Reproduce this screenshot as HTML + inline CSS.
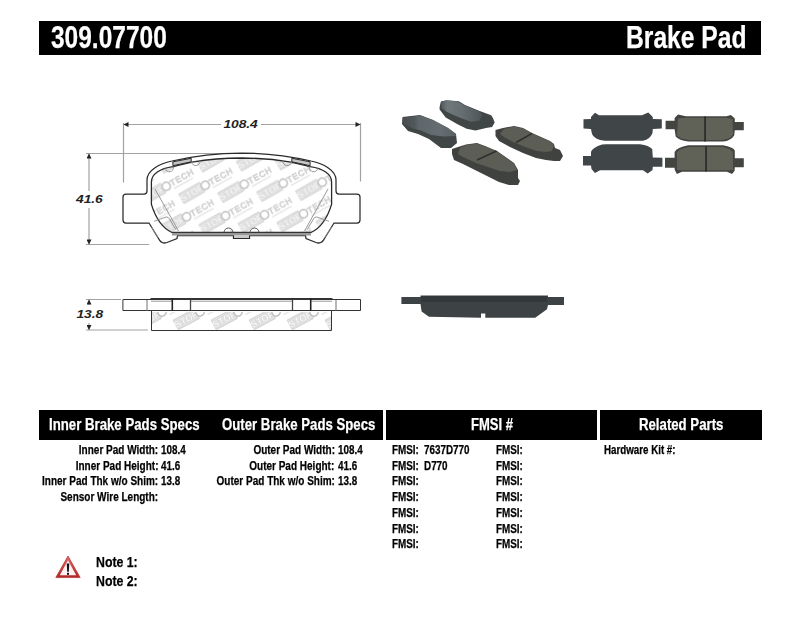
<!DOCTYPE html>
<html><head><meta charset="utf-8">
<style>
html,body{margin:0;padding:0;background:#fff;width:800px;height:619px;overflow:hidden;position:relative}
.t{position:absolute;font-family:"Liberation Sans",sans-serif;font-weight:700;white-space:pre;line-height:1;transform-origin:0 0;color:#000;-webkit-text-stroke:0.25px #000}
.w{color:#fff;-webkit-text-stroke:0.25px #fff}
.r{transform-origin:100% 0;text-align:right}
.bar{position:absolute;background:#000}
svg{position:absolute;left:0;top:0}
</style></head><body>
<svg width="800" height="619" viewBox="0 0 800 619">
<defs>

<pattern id="wm" patternUnits="userSpaceOnUse" width="39" height="62" x="205.3" y="185.3" patternTransform="rotate(-1.5 205.3 185.3)">
 <g transform="translate(0,0) rotate(-28)"> <rect x="-27.5" y="-5.5" width="24" height="11" fill="#e0e0e0" stroke="#d0d0d0" stroke-width="0.8"/> <text x="-15.5" y="3.4" font-family="Liberation Sans" font-weight="700" font-size="9.5" fill="#fff" stroke="#d0d0d0" stroke-width="0.3" text-anchor="middle">STOP</text> <circle cx="0" cy="0" r="4.1" fill="#fff" stroke="#c2c2c2" stroke-width="1.6"/> <text x="5" y="2.8" font-family="Liberation Sans" font-weight="400" font-size="8.5" letter-spacing="0.8" fill="none" stroke="#cfcfcf" stroke-width="0.75">TECH</text> <rect x="5.5" y="5" width="22" height="1.6" fill="#e8e8e8"/></g>
 <g transform="translate(39,0) rotate(-28)"> <rect x="-27.5" y="-5.5" width="24" height="11" fill="#e0e0e0" stroke="#d0d0d0" stroke-width="0.8"/> <text x="-15.5" y="3.4" font-family="Liberation Sans" font-weight="700" font-size="9.5" fill="#fff" stroke="#d0d0d0" stroke-width="0.3" text-anchor="middle">STOP</text> <circle cx="0" cy="0" r="4.1" fill="#fff" stroke="#c2c2c2" stroke-width="1.6"/> <text x="5" y="2.8" font-family="Liberation Sans" font-weight="400" font-size="8.5" letter-spacing="0.8" fill="none" stroke="#cfcfcf" stroke-width="0.75">TECH</text> <rect x="5.5" y="5" width="22" height="1.6" fill="#e8e8e8"/></g>
 <g transform="translate(19.5,31) rotate(-28)"> <rect x="-27.5" y="-5.5" width="24" height="11" fill="#e0e0e0" stroke="#d0d0d0" stroke-width="0.8"/> <text x="-15.5" y="3.4" font-family="Liberation Sans" font-weight="700" font-size="9.5" fill="#fff" stroke="#d0d0d0" stroke-width="0.3" text-anchor="middle">STOP</text> <circle cx="0" cy="0" r="4.1" fill="#fff" stroke="#c2c2c2" stroke-width="1.6"/> <text x="5" y="2.8" font-family="Liberation Sans" font-weight="400" font-size="8.5" letter-spacing="0.8" fill="none" stroke="#cfcfcf" stroke-width="0.75">TECH</text> <rect x="5.5" y="5" width="22" height="1.6" fill="#e8e8e8"/></g>
 <g transform="translate(-19.5,31) rotate(-28)"> <rect x="-27.5" y="-5.5" width="24" height="11" fill="#e0e0e0" stroke="#d0d0d0" stroke-width="0.8"/> <text x="-15.5" y="3.4" font-family="Liberation Sans" font-weight="700" font-size="9.5" fill="#fff" stroke="#d0d0d0" stroke-width="0.3" text-anchor="middle">STOP</text> <circle cx="0" cy="0" r="4.1" fill="#fff" stroke="#c2c2c2" stroke-width="1.6"/> <text x="5" y="2.8" font-family="Liberation Sans" font-weight="400" font-size="8.5" letter-spacing="0.8" fill="none" stroke="#cfcfcf" stroke-width="0.75">TECH</text> <rect x="5.5" y="5" width="22" height="1.6" fill="#e8e8e8"/></g>
 <g transform="translate(0,62) rotate(-28)"> <rect x="-27.5" y="-5.5" width="24" height="11" fill="#e0e0e0" stroke="#d0d0d0" stroke-width="0.8"/> <text x="-15.5" y="3.4" font-family="Liberation Sans" font-weight="700" font-size="9.5" fill="#fff" stroke="#d0d0d0" stroke-width="0.3" text-anchor="middle">STOP</text> <circle cx="0" cy="0" r="4.1" fill="#fff" stroke="#c2c2c2" stroke-width="1.6"/> <text x="5" y="2.8" font-family="Liberation Sans" font-weight="400" font-size="8.5" letter-spacing="0.8" fill="none" stroke="#cfcfcf" stroke-width="0.75">TECH</text> <rect x="5.5" y="5" width="22" height="1.6" fill="#e8e8e8"/></g>
 <g transform="translate(39,62) rotate(-28)"> <rect x="-27.5" y="-5.5" width="24" height="11" fill="#e0e0e0" stroke="#d0d0d0" stroke-width="0.8"/> <text x="-15.5" y="3.4" font-family="Liberation Sans" font-weight="700" font-size="9.5" fill="#fff" stroke="#d0d0d0" stroke-width="0.3" text-anchor="middle">STOP</text> <circle cx="0" cy="0" r="4.1" fill="#fff" stroke="#c2c2c2" stroke-width="1.6"/> <text x="5" y="2.8" font-family="Liberation Sans" font-weight="400" font-size="8.5" letter-spacing="0.8" fill="none" stroke="#cfcfcf" stroke-width="0.75">TECH</text> <rect x="5.5" y="5" width="22" height="1.6" fill="#e8e8e8"/></g>
 <g transform="translate(19.5,-31) rotate(-28)"> <rect x="-27.5" y="-5.5" width="24" height="11" fill="#e0e0e0" stroke="#d0d0d0" stroke-width="0.8"/> <text x="-15.5" y="3.4" font-family="Liberation Sans" font-weight="700" font-size="9.5" fill="#fff" stroke="#d0d0d0" stroke-width="0.3" text-anchor="middle">STOP</text> <circle cx="0" cy="0" r="4.1" fill="#fff" stroke="#c2c2c2" stroke-width="1.6"/> <text x="5" y="2.8" font-family="Liberation Sans" font-weight="400" font-size="8.5" letter-spacing="0.8" fill="none" stroke="#cfcfcf" stroke-width="0.75">TECH</text> <rect x="5.5" y="5" width="22" height="1.6" fill="#e8e8e8"/></g>
 <g transform="translate(-19.5,-31) rotate(-28)"> <rect x="-27.5" y="-5.5" width="24" height="11" fill="#e0e0e0" stroke="#d0d0d0" stroke-width="0.8"/> <text x="-15.5" y="3.4" font-family="Liberation Sans" font-weight="700" font-size="9.5" fill="#fff" stroke="#d0d0d0" stroke-width="0.3" text-anchor="middle">STOP</text> <circle cx="0" cy="0" r="4.1" fill="#fff" stroke="#c2c2c2" stroke-width="1.6"/> <text x="5" y="2.8" font-family="Liberation Sans" font-weight="400" font-size="8.5" letter-spacing="0.8" fill="none" stroke="#cfcfcf" stroke-width="0.75">TECH</text> <rect x="5.5" y="5" width="22" height="1.6" fill="#e8e8e8"/></g>
 <g transform="translate(58.5,31) rotate(-28)"> <rect x="-27.5" y="-5.5" width="24" height="11" fill="#e0e0e0" stroke="#d0d0d0" stroke-width="0.8"/> <text x="-15.5" y="3.4" font-family="Liberation Sans" font-weight="700" font-size="9.5" fill="#fff" stroke="#d0d0d0" stroke-width="0.3" text-anchor="middle">STOP</text> <circle cx="0" cy="0" r="4.1" fill="#fff" stroke="#c2c2c2" stroke-width="1.6"/> <text x="5" y="2.8" font-family="Liberation Sans" font-weight="400" font-size="8.5" letter-spacing="0.8" fill="none" stroke="#cfcfcf" stroke-width="0.75">TECH</text> <rect x="5.5" y="5" width="22" height="1.6" fill="#e8e8e8"/></g>
 <g transform="translate(58.5,-31) rotate(-28)"> <rect x="-27.5" y="-5.5" width="24" height="11" fill="#e0e0e0" stroke="#d0d0d0" stroke-width="0.8"/> <text x="-15.5" y="3.4" font-family="Liberation Sans" font-weight="700" font-size="9.5" fill="#fff" stroke="#d0d0d0" stroke-width="0.3" text-anchor="middle">STOP</text> <circle cx="0" cy="0" r="4.1" fill="#fff" stroke="#c2c2c2" stroke-width="1.6"/> <text x="5" y="2.8" font-family="Liberation Sans" font-weight="400" font-size="8.5" letter-spacing="0.8" fill="none" stroke="#cfcfcf" stroke-width="0.75">TECH</text> <rect x="5.5" y="5" width="22" height="1.6" fill="#e8e8e8"/></g>
</pattern>
<filter id="soft" x="-5%" y="-5%" width="110%" height="110%"><feGaussianBlur stdDeviation="0.5"/></filter>
<pattern id="wm2" patternUnits="userSpaceOnUse" width="38" height="62" x="238" y="312">
 <g transform="translate(0,0) rotate(-28)"> <rect x="-27.5" y="-5.5" width="24" height="11" fill="#e0e0e0" stroke="#d0d0d0" stroke-width="0.8"/> <text x="-15.5" y="3.4" font-family="Liberation Sans" font-weight="700" font-size="9.5" fill="#fff" stroke="#d0d0d0" stroke-width="0.3" text-anchor="middle">STOP</text> <circle cx="0" cy="0" r="4.1" fill="#fff" stroke="#c2c2c2" stroke-width="1.6"/> <text x="5" y="2.8" font-family="Liberation Sans" font-weight="400" font-size="8.5" letter-spacing="0.8" fill="none" stroke="#cfcfcf" stroke-width="0.75">TECH</text> <rect x="5.5" y="5" width="22" height="1.6" fill="#e8e8e8"/></g>
 <g transform="translate(38,0) rotate(-28)"> <rect x="-27.5" y="-5.5" width="24" height="11" fill="#e0e0e0" stroke="#d0d0d0" stroke-width="0.8"/> <text x="-15.5" y="3.4" font-family="Liberation Sans" font-weight="700" font-size="9.5" fill="#fff" stroke="#d0d0d0" stroke-width="0.3" text-anchor="middle">STOP</text> <circle cx="0" cy="0" r="4.1" fill="#fff" stroke="#c2c2c2" stroke-width="1.6"/> <text x="5" y="2.8" font-family="Liberation Sans" font-weight="400" font-size="8.5" letter-spacing="0.8" fill="none" stroke="#cfcfcf" stroke-width="0.75">TECH</text> <rect x="5.5" y="5" width="22" height="1.6" fill="#e8e8e8"/></g>
</pattern>
<linearGradient id="gA" x1="0" y1="0" x2="1" y2="0"><stop offset="0" stop-color="#484d4f"/><stop offset="0.22" stop-color="#50575a"/><stop offset="0.3" stop-color="#5e666a"/><stop offset="0.7" stop-color="#666e71"/><stop offset="1" stop-color="#596164"/></linearGradient>
<linearGradient id="gB" x1="0" y1="0" x2="1" y2="0"><stop offset="0" stop-color="#555b5e"/><stop offset="0.15" stop-color="#6f777a"/><stop offset="0.5" stop-color="#666e71"/><stop offset="1" stop-color="#4d5457"/></linearGradient>
<marker id="ar" viewBox="0 0 10 10" refX="10" refY="5" markerWidth="6" markerHeight="5" orient="auto-start-reverse" markerUnits="userSpaceOnUse"><path d="M0,0 L10,5 L0,10 Z" fill="#222"/></marker>
</defs>
<path d="M123.5,123 V182.5 M360.5,123 V181.5" stroke="#a2a2a2" stroke-width="1.2" fill="none"/>
<path d="M123.5,124.5 H221" stroke="#a2a2a2" stroke-width="1.2" fill="none" marker-start="url(#ar)"/>
<path d="M261,124.5 H360.5" stroke="#a2a2a2" stroke-width="1.2" fill="none" marker-end="url(#ar)"/>
<path d="M86,153.5 H241 M86,244.5 H149" stroke="#a2a2a2" stroke-width="1.2" fill="none"/>
<path d="M89,153.5 V191" stroke="#a2a2a2" stroke-width="1.2" fill="none" marker-start="url(#ar)"/>
<path d="M89,208 V244.5" stroke="#a2a2a2" stroke-width="1.2" fill="none" marker-end="url(#ar)"/>
<path d="M86,299.5 H121 M86,330 H148" stroke="#a2a2a2" stroke-width="1.2" fill="none"/>
<path d="M89,299.5 V305" stroke="#a2a2a2" stroke-width="1.2" fill="none" marker-start="url(#ar)"/>
<path d="M89,323 V330" stroke="#a2a2a2" stroke-width="1.2" fill="none" marker-end="url(#ar)"/>
<path d="M241.5,158 A307,307 0 0 1 291,162.1 L310.1,166.6 C323,168.5 331.6,174 331.6,182 L331.6,204.4 C328,216 321,228 311,232.5 L172,232.5 C162,228 155,216 151.4,204.4 L151.4,182 C151.4,174 160,168.5 172.9,166.6 L192,162.1 A307,307 0 0 1 241.5,158 Z" fill="url(#wm)" stroke="#2a2a2a" stroke-width="1.3"/>
<path d="M241.5,153 A307,307 0 0 0 172,161 C160,163.5 147,170 147,180 L147,191 Q147,194 144,194 L126,194 Q123,194 123,197 L123,220 Q123,223 126,223 L149,223 L158.5,238.5 Q161.5,244.5 167,242.5 L177,238.5 L177.5,235.5 L233.5,235.5 L233.5,238.3 L249.5,238.3 L249.5,235.5 L305.5,235.5 L306,238.5 L316,242.5 Q321.5,244.5 324.5,238.5 L334,223 L357,223 Q360,223 360,220 L360,197 Q360,194 357,194 L339,194 Q336,194 336,191 L336,180 C336,170 323,163.5 311,161 A307,307 0 0 0 241.5,153 Z" fill="none" stroke="#2a2a2a" stroke-width="1.25"/>
<rect x="172" y="232.5" width="139" height="3" fill="#999"/>
<path d="M172,232.5 H311" stroke="#333" stroke-width="1"/>
<path d="M172.9,161.8 L191.2,158.3 L191.2,161.8 L172.9,165.7 Z" fill="#c4c4c4" stroke="#2a2a2a" stroke-width="1"/>
<path d="M310.1,161.8 L291.8,158.3 L291.8,161.8 L310.1,165.7 Z" fill="#c4c4c4" stroke="#2a2a2a" stroke-width="1"/>
<path d="M191.5,162 A4.2,4.2 0 0 0 200,160.6 M165,168.2 A4.2,4.2 0 0 0 173.5,166.6" stroke="#8c8c8c" stroke-width="0.9" fill="none"/>
<path d="M291.5,162 A4.2,4.2 0 0 1 283,160.6 M318,168.2 A4.2,4.2 0 0 1 309.5,166.6" stroke="#8c8c8c" stroke-width="0.9" fill="none"/>
<path d="M224,232.5 A4.5,4.5 0 0 1 233,232.5 M250,232.5 A4.5,4.5 0 0 1 259,232.5" stroke="#555" stroke-width="1" fill="none"/>
<rect x="234" y="235.5" width="15" height="2.3" fill="#c8c8c8"/>
<path d="M155,189 L178.5,231 M328,189 L304.5,231" stroke="#8c8c8c" stroke-width="0.9" fill="none"/>
<path d="M154,221.3 L166.2,217 Q168.5,216.8 169.5,219 L175.9,229.6 M151.6,227.2 L158.4,237.8" stroke="#8c8c8c" stroke-width="0.9" fill="none"/>
<path d="M329,221.3 L316.8,217 Q314.5,216.8 313.5,219 L307.1,229.6 M331.4,227.2 L324.6,237.8" stroke="#8c8c8c" stroke-width="0.9" fill="none"/>
<path d="M151.5,310.5 H331.5 V330.5 H151.5 Z" fill="url(#wm2)" stroke="#333" stroke-width="1"/>
<path d="M122.9,299.5 H360.5 V310.5 H122.9 Z" fill="#fff" stroke="#333" stroke-width="1"/>
<rect x="150.5" y="298" width="182" height="2" fill="#333"/>
<path d="M151,301.2 H172 M311,301.2 H332 M191,301.2 H292" stroke="#9a9a9a" stroke-width="1"/>
<path d="M147,300 V310.5 M336,300 V310.5" stroke="#888" stroke-width="1.2"/>
<path d="M190.5,300 V310.5 M292.5,300 V310.5" stroke="#444" stroke-width="1.3"/>
<path d="M172.3,298 V310.5 M310.7,298 V310.5" stroke="#222" stroke-width="1.6"/>
<text x="223.4" y="128.3" font-family="Liberation Sans" font-weight="700" font-style="italic" font-size="11" fill="#222" transform="translate(223.4,128.3) scale(1.25,1) translate(-223.4,-128.3)">108.4</text>
<text x="76" y="203.3" font-family="Liberation Sans" font-weight="700" font-style="italic" font-size="11" fill="#222" transform="translate(76,203.3) scale(1.25,1) translate(-76,-203.3)">41.6</text>
<text x="76.4" y="317.9" font-family="Liberation Sans" font-weight="700" font-style="italic" font-size="11" fill="#222" transform="translate(76.4,317.9) scale(1.25,1) translate(-76.4,-317.9)">13.8</text>
<g filter="url(#soft)">
<polygon points="402.5,117 420,115 433,120 448,128 456,134 457,143 451,148 441,148 429,139 418,134 408,131 402,124" fill="#404445" />
<polygon points="403,117.5 420,115.5 433,120 448,128 455.5,133.5 456,136 444,136.5 431,135 421,130.5 413,128.5 404,124 402.5,121" fill="url(#gA)" />
<polygon points="440.9,101.6 446.6,100.3 458.9,101.2 465,105.1 479,110.8 491.2,115.2 493,118.2 494.7,122.6 492.1,127 486,127.9 475.5,130.5 466.7,128.7 458,124.4 445.7,117.4 439.6,109.5 439.6,106.9" fill="#404445" />
<polygon points="441.4,101.6 446.6,100.6 458,101.4 465,105.6 479,111.2 482.5,114.7 479,120.9 471.1,121.7 463.2,119.1 454.5,115.6 445.7,111.2 441.4,107.7" fill="url(#gB)" />
<polygon points="495.5,130 503,128 514,126 523,128 532,133 550,141 554,144 555,148 560,150 563,156 560,161 554,161 546,160 536,158 523,153 510,147 499,141 495.5,136" fill="#404240" />
<polygon points="504,129 514,126.5 523,128.5 532,133.5 550,141.5 554,144.5 552,151 546,152 537,151 525,147 513,142 504,137 500,134" fill="#5c5d55" />
<path d="M532,133.5 L516,142.5" stroke="#2e302e" stroke-width="1.5"/>
<polygon points="452,149 458,147 466,144.5 477,143 485,146 497,151 514,163 518,170 518,178 520,181 518,185 509,185 499,182 487,176 475,170 463,164 454,160 452,154" fill="#404240" />
<polygon points="460,148 466,145 477,143.5 485,146.5 497,151.5 514,163.5 517,170 510,172 500,171 488,167 476,163 463,157 458,154" fill="#5c5d55" />
<path d="M496.5,151 L477,160" stroke="#2e302e" stroke-width="1.5"/>
<path d="M583.5,119.2 L591,119 L591,117 L595,112.8 L599,115.2 L642,115.2 L648.3,112.6 L652.8,117 L652.8,119 L661.8,119.2 L661.8,128.6 L652.8,129 L652.5,133 Q650,139.5 643,140.8 L605,140.8 Q594,139.5 592,134 L591,129 L583.5,128.6 Z" fill="#3f4447"/>
<path d="M583,156 L591,156 L591,152 Q593,147 602,144.5 L606,144.2 L640,144.2 Q649,145.5 652.2,149 L652.8,157.5 L662.4,157.7 L662.4,166.7 L652.8,166.7 L652.5,170 L647.7,173.4 L643,170.2 L600,170.2 L594.9,172.9 L591.5,169 L591,165.6 L583,165.6 Z" fill="#3f4447"/>
<path d="M665.6,120.7 L674.6,120.7 L674.6,118 L678,114.6 L685.9,116.2 L726.4,116.2 L730.9,115.1 L734.8,118.5 L734.8,121.9 L743.8,121.9 L743.8,130.3 L734.8,130.3 L734.2,135.4 Q731,140.5 723,141.6 L688.1,141.6 Q679,140.5 675.7,136.5 L674.6,129.2 L665.6,129.2 Z" fill="#434541"/>
<path d="M678,118.5 L686,117.8 L726,117.8 L732.5,119 L733,134.5 Q730,139 722,140 L689,140 Q680,139 677,135.5 Z" fill="#606259"/>
<rect x="704.2" y="116.5" width="1.7" height="25" fill="#2a2b28"/>
<path d="M665,157.7 L674.6,157.7 L674.6,152 Q677,147.5 688.1,145.3 L723,145.3 Q733,147 734.8,150.4 L734.8,158.2 L743.8,158.2 L743.8,167.2 L734.8,167.2 L734.5,171 L732,174 L727,171.7 L682,171.7 L676.9,174 L674.8,170 L674.6,167.8 L665,167.8 Z" fill="#434541"/>
<path d="M677,152.5 Q679,148.5 689,147 L722,147 Q731,148.5 732.8,152 L733,170 L727,170.2 L682,170.2 L677,170 Z" fill="#606259"/>
<rect x="705.2" y="146.5" width="1.7" height="25" fill="#2a2b28"/>
<path d="M401.4,296.9 L420.5,296.9 L420.5,295.4 L548,295.4 L548,296.9 L564,296.9 L564,305 L548,305 L547,309.25 L535.2,317.75 L485.3,317.75 L485.3,313.5 L481,313.5 L481,317.75 L429,316.7 L421.6,311.4 L420.5,303.9 L401.4,303.9 Z" fill="#3e4244"/>
<rect x="421" y="296" width="126" height="6" fill="#36393b"/>
</g>
</svg>
<div class="bar" style="left:39px;top:21px;width:722px;height:34px"></div>
<div class="t w" style="left:51px;top:22px;font-size:31px;transform:scaleX(0.79)">309.07700</div>
<div class="t w" style="left:626px;top:22px;font-size:31px;transform:scaleX(0.795)">Brake Pad</div>
<div class="bar" style="left:39px;top:410px;width:344px;height:30px"></div>
<div class="bar" style="left:386px;top:410px;width:211px;height:30px"></div>
<div class="bar" style="left:600px;top:410px;width:162px;height:30px"></div>
<div class="t w" style="left:49px;top:416px;font-size:16.5px;transform:scaleX(0.801)">Inner Brake Pads Specs</div>
<div class="t w" style="left:221.5px;top:416px;font-size:16.5px;transform:scaleX(0.8)">Outer Brake Pads Specs</div>
<div class="t w" style="left:470.5px;top:416px;font-size:16.5px;transform:scaleX(0.79)">FMSI #</div>
<div class="t w" style="left:639px;top:416px;font-size:16.5px;transform:scaleX(0.8)">Related Parts</div>
<div class="t r" style="right:641.5px;top:443.9px;font-size:12.5px;transform:scaleX(0.8)">Inner Pad Width:</div>
<div class="t" style="left:161.3px;top:443.9px;font-size:12.5px;transform:scaleX(0.79)">108.4</div>
<div class="t r" style="right:641.5px;top:459.65px;font-size:12.5px;transform:scaleX(0.8)">Inner Pad Height:</div>
<div class="t" style="left:161.3px;top:459.65px;font-size:12.5px;transform:scaleX(0.79)">41.6</div>
<div class="t r" style="right:641.5px;top:475.4px;font-size:12.5px;transform:scaleX(0.8)">Inner Pad Thk w/o Shim:</div>
<div class="t" style="left:161.3px;top:475.4px;font-size:12.5px;transform:scaleX(0.79)">13.8</div>
<div class="t r" style="right:641.5px;top:491.15px;font-size:12.5px;transform:scaleX(0.8)">Sensor Wire Length:</div>
<div class="t r" style="right:465.5px;top:443.9px;font-size:12.5px;transform:scaleX(0.8)">Outer Pad Width:</div>
<div class="t" style="left:338.1px;top:443.9px;font-size:12.5px;transform:scaleX(0.79)">108.4</div>
<div class="t r" style="right:465.5px;top:459.65px;font-size:12.5px;transform:scaleX(0.8)">Outer Pad Height:</div>
<div class="t" style="left:338.1px;top:459.65px;font-size:12.5px;transform:scaleX(0.79)">41.6</div>
<div class="t r" style="right:465.5px;top:475.4px;font-size:12.5px;transform:scaleX(0.8)">Outer Pad Thk w/o Shim:</div>
<div class="t" style="left:338.1px;top:475.4px;font-size:12.5px;transform:scaleX(0.79)">13.8</div>
<div class="t" style="left:391.6px;top:443.9px;font-size:12.5px;transform:scaleX(0.79)">FMSI:</div>
<div class="t" style="left:424px;top:443.9px;font-size:12.5px;transform:scaleX(0.79)">7637D770</div>
<div class="t" style="left:496.2px;top:443.9px;font-size:12.5px;transform:scaleX(0.79)">FMSI:</div>
<div class="t" style="left:391.6px;top:459.65px;font-size:12.5px;transform:scaleX(0.79)">FMSI:</div>
<div class="t" style="left:424px;top:459.65px;font-size:12.5px;transform:scaleX(0.79)">D770</div>
<div class="t" style="left:496.2px;top:459.65px;font-size:12.5px;transform:scaleX(0.79)">FMSI:</div>
<div class="t" style="left:391.6px;top:475.4px;font-size:12.5px;transform:scaleX(0.79)">FMSI:</div>
<div class="t" style="left:496.2px;top:475.4px;font-size:12.5px;transform:scaleX(0.79)">FMSI:</div>
<div class="t" style="left:391.6px;top:491.15px;font-size:12.5px;transform:scaleX(0.79)">FMSI:</div>
<div class="t" style="left:496.2px;top:491.15px;font-size:12.5px;transform:scaleX(0.79)">FMSI:</div>
<div class="t" style="left:391.6px;top:506.9px;font-size:12.5px;transform:scaleX(0.79)">FMSI:</div>
<div class="t" style="left:496.2px;top:506.9px;font-size:12.5px;transform:scaleX(0.79)">FMSI:</div>
<div class="t" style="left:391.6px;top:522.65px;font-size:12.5px;transform:scaleX(0.79)">FMSI:</div>
<div class="t" style="left:496.2px;top:522.65px;font-size:12.5px;transform:scaleX(0.79)">FMSI:</div>
<div class="t" style="left:391.6px;top:538.4px;font-size:12.5px;transform:scaleX(0.79)">FMSI:</div>
<div class="t" style="left:496.2px;top:538.4px;font-size:12.5px;transform:scaleX(0.79)">FMSI:</div>
<div class="t" style="left:604px;top:443.9px;font-size:12.5px;transform:scaleX(0.78)">Hardware Kit #:</div>
<div class="t" style="left:96px;top:553.5px;font-size:15px;transform:scaleX(0.82)">Note 1:</div>
<div class="t" style="left:96px;top:572.7px;font-size:15px;transform:scaleX(0.82)">Note 2:</div>
<svg width="800" height="619" viewBox="0 0 800 619" style="position:absolute;left:0;top:0">
<defs><linearGradient id="rg" x1="0" y1="0" x2="0" y2="1"><stop offset="0" stop-color="#e06a6a"/><stop offset="1" stop-color="#b02525"/></linearGradient></defs>
<path d="M68,556 L80.2,577.6 L55.8,577.6 Z" fill="url(#rg)" stroke="#b83030" stroke-width="0.7" stroke-linejoin="round"/>
<path d="M68,560.2 L76.2,575.3 L59.8,575.3 Z" fill="#fcf0f0"/>
<path d="M66.7,563.6 H69.3 L68.8,571.8 H67.2 Z" fill="#111"/>
<rect x="67" y="572.8" width="2" height="2" fill="#111"/>
</svg>

</body></html>
